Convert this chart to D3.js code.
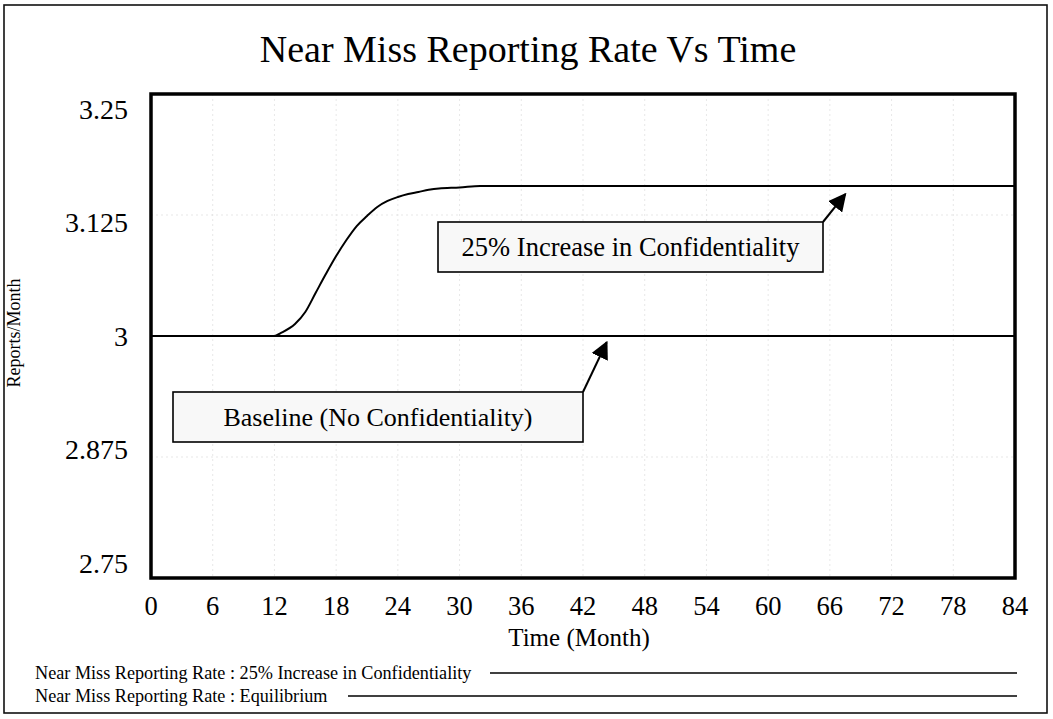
<!DOCTYPE html>
<html>
<head>
<meta charset="utf-8">
<script src="https://cdn.jsdelivr.net/npm/d3@7"></script>
<style>
  html, body { margin: 0; padding: 0; background: #fff; }
  svg text { font-family: "Liberation Serif", "Times New Roman", serif; fill: #000; }
</style>
</head>
<body>
<svg id="chart" width="1053" height="719"></svg>
<script>
// Simulation output: near miss reporting rate (reports/month) over 84 months
const months      = [0, 12, 12.6, 14, 15, 16, 17, 18, 19, 20, 21, 22, 23, 24, 25, 26, 27, 28, 30, 32, 84];
const confidRate  = [3, 3, 3.003, 3.0124, 3.0248, 3.0444, 3.064, 3.0826, 3.0992, 3.1136, 3.124, 3.1333, 3.1395, 3.1436, 3.1467, 3.1488, 3.151, 3.1524, 3.1534, 3.155, 3.155];
const baseMonths  = [0, 84];
const baseRate    = [3, 3];
const xTicks      = [0, 6, 12, 18, 24, 30, 36, 42, 48, 54, 60, 66, 72, 78, 84];
const yTicks      = [2.75, 2.875, 3, 3.125, 3.25];
const yTickLabels = ["2.75", "2.875", "3", "3.125", "3.25"];
const legendNames = ["Near Miss Reporting Rate : 25% Increase in Confidentiality",
                     "Near Miss Reporting Rate : Equilibrium"];

const svg = d3.select("#chart");

// outer frame
svg.append("rect").attr("x", 4).attr("y", 5).attr("width", 1043).attr("height", 708)
  .attr("fill", "#fff").attr("stroke", "#111").attr("stroke-width", 1.6);

const plot = { left: 151, right: 1015, top: 94, bottom: 578 };
const x = d3.scaleLinear().domain([0, 84]).range([plot.left, plot.right]);
const y = d3.scaleLinear().domain([2.75, 3.25]).range([plot.bottom, plot.top]);
// tick labels are spread inside the value range, as the simulator prints them
const yLabel = d3.scaleLinear().domain([2.75, 3.25]).range([563, 109]);

// title
svg.append("text").attr("x", 528).attr("y", 62).attr("text-anchor", "middle")
  .attr("font-size", 38).text("Near Miss Reporting Rate Vs Time");

// faint grid
const grid = svg.append("g").attr("stroke", "#dcdcdc").attr("stroke-width", 0.7)
  .attr("stroke-dasharray", "2,3");
grid.selectAll("line.v").data(xTicks.slice(1, -1)).join("line")
  .attr("x1", d => x(d)).attr("x2", d => x(d)).attr("y1", plot.top).attr("y2", plot.bottom);
grid.selectAll("line.h").data(yTicks.slice(1, -1)).join("line")
  .attr("x1", plot.left).attr("x2", plot.right).attr("y1", d => y(d)).attr("y2", d => y(d));

// x axis labels
svg.append("g").selectAll("text").data(xTicks).join("text")
  .attr("x", d => x(d)).attr("y", 615).attr("text-anchor", "middle")
  .attr("font-size", 26.5).text(d => d);
svg.append("text").attr("x", 579).attr("y", 646).attr("text-anchor", "middle")
  .attr("font-size", 25).text("Time (Month)");

// y axis labels
svg.append("g").selectAll("text").data(yTicks).join("text")
  .attr("x", 128).attr("y", d => yLabel(d)).attr("dy", "0.35em").attr("text-anchor", "end")
  .attr("font-size", 28).text((d, i) => yTickLabels[i]);
svg.append("text").attr("transform", "translate(20,333) rotate(-90)")
  .attr("text-anchor", "middle").attr("font-size", 18).text("Reports/Month");

// series
const line = d3.line().x(d => x(d[0])).y(d => y(d[1]));
svg.append("path").datum(baseMonths.map((m, i) => [m, baseRate[i]]))
  .attr("d", line).attr("fill", "none").attr("stroke", "#000").attr("stroke-width", 2);
svg.append("path").datum(months.map((m, i) => [m, confidRate[i]]))
  .attr("d", line.curve(d3.curveMonotoneX)).attr("fill", "none").attr("stroke", "#000").attr("stroke-width", 2);

// plot frame
svg.append("rect").attr("x", plot.left).attr("y", plot.top)
  .attr("width", plot.right - plot.left).attr("height", plot.bottom - plot.top)
  .attr("fill", "none").attr("stroke", "#000").attr("stroke-width", 3.5);

// annotation boxes with arrows
svg.append("defs").append("marker").attr("id", "arrow")
  .attr("viewBox", "0 0 10 10").attr("refX", 9).attr("refY", 5)
  .attr("markerWidth", 18).attr("markerHeight", 18).attr("markerUnits", "userSpaceOnUse")
  .attr("orient", "auto")
  .append("path").attr("d", "M0,0 L10,5 L0,10 Z").attr("fill", "#000");

function note(bx, by, bw, bh, label, fs, tipMonth, tipRate) {
  svg.append("rect").attr("x", bx).attr("y", by).attr("width", bw).attr("height", bh)
    .attr("fill", "#f8f8f8").attr("stroke", "#000").attr("stroke-width", 1.6);
  svg.append("text").attr("x", bx + bw / 2).attr("y", by + bh / 2).attr("dy", "0.35em")
    .attr("text-anchor", "middle").attr("font-size", fs).text(label);
  svg.append("line").attr("x1", bx + bw).attr("y1", by)
    .attr("x2", x(tipMonth)).attr("y2", y(tipRate))
    .attr("stroke", "#000").attr("stroke-width", 2).attr("marker-end", "url(#arrow)");
}
note(438, 222, 385, 50, "25% Increase in Confidentiality", 26.5, 67.5, 3.1465);
note(173, 392, 410, 50, "Baseline (No Confidentiality)", 26, 44.3, 2.9935);

// legend
const leg = svg.append("g");
[[0, 673, 490], [1, 696, 348]].forEach(([i, ly, lx]) => {
  leg.append("text").attr("x", 35).attr("y", ly).attr("dy", "0.32em")
    .attr("font-size", 18.2).text(legendNames[i]);
  leg.append("line").attr("x1", lx).attr("x2", 1017).attr("y1", ly).attr("y2", ly)
    .attr("stroke", "#000").attr("stroke-width", 1.6);
});
</script>
</body>
</html>
